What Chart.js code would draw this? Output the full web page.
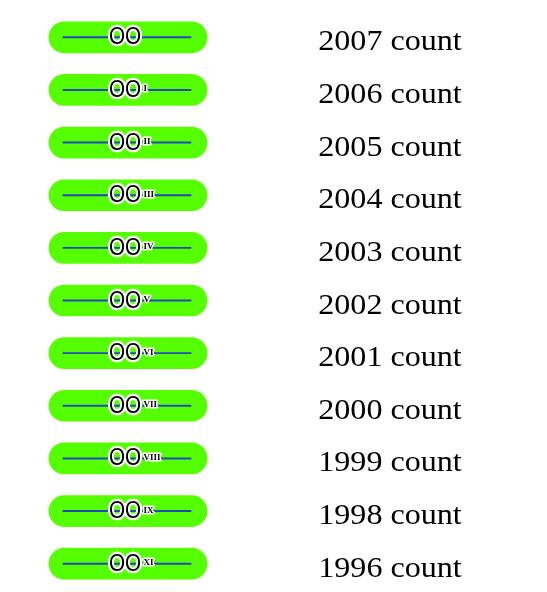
<!DOCTYPE html>
<html>
<head>
<meta charset="utf-8">
<script src="https://cdn.jsdelivr.net/npm/chart.js@4/dist/chart.umd.min.js"></script>
<style>
  html, body { margin: 0; padding: 0; background: #ffffff; }
  #wrap { width: 547px; height: 592px; position: relative; }
</style>
</head>
<body>
<div id="wrap"><canvas id="c"></canvas></div>
<script>
// ---- data ----
const YEARS = ['2007', '2006', '2005', '2004', '2003', '2002', '2001', '2000', '1999', '1998', '1996'];
const NUMERALS = ['', 'I', 'II', 'III', 'IV', 'V', 'VI', 'VII', 'VIII', 'IX', 'XI'];
const LABELS = YEARS.map(y => y + ' count');
const SYMBOL_TEXT = 'OO';

// symbol geometry (layout, not data)
const PILL_START = 49, PILL_END = 207;
const LINE_START = 63, LINE_END = 191;

const symbolPlugin = {
  id: 'symbolText',
  afterDatasetsDraw(chart) {
    const ctx = chart.ctx;
    const meta = chart.getDatasetMeta(0);
    meta.data.forEach((bar, i) => {
      const cx = (bar.x + bar.base) / 2 - 3;
      const cy = bar.y;
      // OO with white halo (slightly condensed)
      ctx.save();
      ctx.font = '23px "Liberation Sans", Arial, sans-serif';
      ctx.textAlign = 'center';
      ctx.textBaseline = 'alphabetic';
      ctx.lineJoin = 'round';
      ctx.strokeStyle = '#ffffff';
      ctx.fillStyle = '#000000';
      const w = ctx.measureText(SYMBOL_TEXT).width * 0.9;
      ctx.translate(cx, cy + 7);
      ctx.scale(0.9, 1);
      ctx.lineWidth = 4.5;
      ctx.strokeText(SYMBOL_TEXT, 0, 0);
      ctx.fillText(SYMBOL_TEXT, 0, 0);
      ctx.restore();
      // roman numeral superscript
      const num = NUMERALS[i];
      ctx.save();
      if (num) {
        ctx.font = 'bold 9px "Liberation Serif", "Times New Roman", serif';
        ctx.textAlign = 'left';
        ctx.textBaseline = 'alphabetic';
        ctx.lineJoin = 'round';
        ctx.strokeStyle = '#ffffff';
        ctx.fillStyle = '#000000';
        const nx = cx + w / 2 + 2.5;
        const ny = cy + 1.5;
        ctx.lineWidth = 3;
        ctx.strokeText(num, nx, ny);
        ctx.fillText(num, nx, ny);
      }
      ctx.restore();
      // row label
      ctx.save();
      ctx.font = '30px "Liberation Serif", "Times New Roman", serif';
      ctx.textAlign = 'center';
      ctx.textBaseline = 'alphabetic';
      ctx.translate(390, cy + 3 + 10);
      ctx.scale(1.07, 1);
      ctx.fillStyle = '#000000';
      ctx.fillText(chart.data.labels[i], 0, 0);
      ctx.restore();
    });
  }
};

new Chart(document.getElementById('c'), {
  type: 'bar',
  data: {
    labels: LABELS,
    datasets: [
      {
        label: 'symbol',
        data: LABELS.map(() => [PILL_START, PILL_END]),
        backgroundColor: '#55ff00',
        borderWidth: 0,
        borderSkipped: false,
        borderRadius: 16,
        barThickness: 31,
        grouped: false,
        order: 2
      },
      {
        label: 'line',
        data: LABELS.map(() => [LINE_START, LINE_END]),
        backgroundColor: '#2248c0',
        borderWidth: 0,
        borderSkipped: false,
        barThickness: 1.3,
        grouped: false,
        order: 1
      }
    ]
  },
  options: {
    indexAxis: 'y',
    responsive: true,
    maintainAspectRatio: false,
    animation: false,
    layout: { padding: { top: 11, bottom: 2, left: 0, right: 0 } },
    plugins: { legend: { display: false }, tooltip: { enabled: false }, title: { display: false } },
    scales: {
      x: { type: 'linear', min: 0, max: 547, display: false },
      y: { type: 'category', offset: true, display: false }
    }
  },
  plugins: [symbolPlugin]
});
</script>
</body>
</html>
